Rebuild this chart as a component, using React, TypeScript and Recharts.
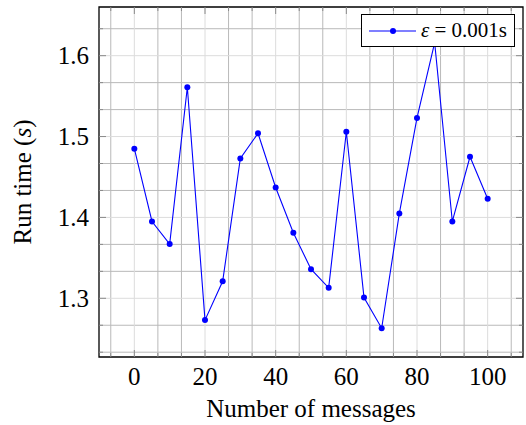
import React from 'react';
import { LineChart, Line, XAxis, YAxis, CartesianGrid, ReferenceArea, Legend } from 'recharts';

// run time measured every 5 messages
const messageCounts = [0, 5, 10, 15, 20, 25, 30, 35, 40, 45, 50, 55, 60, 65, 70, 75, 80, 85, 90, 95, 100];
const runTimes = [1.485, 1.395, 1.367, 1.561, 1.273, 1.321, 1.473, 1.504, 1.437, 1.381, 1.336,
    1.313, 1.506, 1.301, 1.263, 1.405, 1.523, 1.616, 1.395, 1.475, 1.423];

const xMajorTicks = [0, 20, 40, 60, 80, 100];
const yMajorTicks = [1.3, 1.4, 1.5, 1.6];

const X_DOMAIN: [number, number] = [-10, 110];
const Y_DOMAIN: [number, number] = [1.2274, 1.6602];

const WIDTH = 526;
const HEIGHT = 425;
const Y_AXIS_W = 99;
const X_AXIS_H = 68;
const MARGIN = { top: 7, right: 3, bottom: 0, left: 0 };
const PLOT_TOP = MARGIN.top;
const PLOT_BOTTOM = HEIGHT - X_AXIS_H;
const PLOT_LEFT = Y_AXIS_W;
const PLOT_RIGHT = WIDTH - MARGIN.right;

const FONT = '"Liberation Serif", "DejaVu Serif", serif';
const TICK_COLOR = '#8a8a8a';

// three minor steps between majors, like pgfplots' minor tick num=2
function minorValues(step: number, lo: number, hi: number, majors: number[]) {
    const out: number[] = [];
    const sub = step / 3;
    for (let k = Math.ceil(lo / sub); k * sub <= hi; k++) {
        const v = k * sub;
        if (!majors.some(m => Math.abs(m - v) < 1e-6)) out.push(v);
    }
    return out;
}

const xMinor = minorValues(20, X_DOMAIN[0], X_DOMAIN[1], xMajorTicks);
const yMinor = minorValues(0.1, Y_DOMAIN[0], Y_DOMAIN[1], yMajorTicks);
const xAllTicks = [...xMinor, ...xMajorTicks].sort((a, b) => a - b);
const yAllTicks = [...yMinor, ...yMajorTicks].sort((a, b) => a - b);

const isMajor = (v: number, majors: number[]) => majors.some(m => Math.abs(m - v) < 1e-6);

const data = messageCounts.map((m, i) => ({ messages: m, time: runTimes[i] }));

function XTick({ x, payload }: any) {
    const major = isMajor(payload.value, xMajorTicks);
    const len = major ? 7 : 4;
    return (
        <g>
            <line x1={x} x2={x} y1={PLOT_BOTTOM} y2={PLOT_BOTTOM - len} stroke={TICK_COLOR} />
            <line x1={x} x2={x} y1={PLOT_TOP} y2={PLOT_TOP + len} stroke={TICK_COLOR} />
            {major && (
                <text x={x} y={PLOT_BOTTOM + 28} textAnchor="middle" fontFamily={FONT} fontSize={25} fill="#000">
                    {payload.value}
                </text>
            )}
        </g>
    );
}

function YTick({ y, payload }: any) {
    const major = isMajor(payload.value, yMajorTicks);
    const len = major ? 7 : 4;
    return (
        <g>
            <line x1={PLOT_LEFT} x2={PLOT_LEFT + len} y1={y} y2={y} stroke={TICK_COLOR} />
            <line x1={PLOT_RIGHT} x2={PLOT_RIGHT - len} y1={y} y2={y} stroke={TICK_COLOR} />
            {major && (
                <text x={PLOT_LEFT - 10} y={y + 8.5} textAnchor="end" fontFamily={FONT} fontSize={25} fill="#000">
                    {payload.value.toFixed(1)}
                </text>
            )}
        </g>
    );
}

function XTitle({ viewBox }: any) {
    const cx = viewBox.x + viewBox.width / 2;
    return (
        <text x={cx} y={417} textAnchor="middle" fontFamily={FONT} fontSize={25} fill="#000">
            Number of messages
        </text>
    );
}

function YTitle({ viewBox }: any) {
    const cy = viewBox.y + viewBox.height / 2;
    return (
        <text transform={`translate(31, ${cy}) rotate(-90)`} textAnchor="middle" fontFamily={FONT} fontSize={25} fill="#000">
            Run time (<tspan fontStyle="italic">s</tspan>)
        </text>
    );
}

function LegendBox() {
    return (
        <div style={{
            boxSizing: 'border-box', width: 154, height: 33, border: '1px solid #000', background: '#fff',
            display: 'flex', alignItems: 'center', paddingLeft: 7, fontFamily: FONT, fontSize: 21,
        }}>
            <svg width={47} height={10} style={{ marginRight: 5 }}>
                <line x1={0} x2={47} y1={5} y2={5} stroke="#0000ff" strokeWidth={1.1} />
                <circle cx={24} cy={5} r={3} fill="#0000ff" />
            </svg>
            <span style={{ whiteSpace: 'nowrap' }}>
                <i>ε</i> = 0.001s
            </span>
        </div>
    );
}

export default function App() {
    return (
        <div style={{ position: 'absolute', left: 0, top: 0 }}>
            <LineChart width={WIDTH} height={HEIGHT} data={data} margin={MARGIN}>
                <CartesianGrid verticalValues={xMinor} horizontalValues={yMinor} stroke="#b9b9b9" />
                <CartesianGrid verticalValues={xMajorTicks} horizontalValues={yMajorTicks} stroke="#dcdcdc" />
                <XAxis dataKey="messages" type="number" domain={X_DOMAIN} ticks={xAllTicks} interval={0}
                    allowDataOverflow tick={<XTick />} tickLine={false} axisLine={false} height={X_AXIS_H}
                    label={<XTitle />} />
                <YAxis type="number" domain={Y_DOMAIN} ticks={yAllTicks} interval={0} allowDataOverflow
                    tick={<YTick />} tickLine={false} axisLine={false} width={Y_AXIS_W} label={<YTitle />} />
                <ReferenceArea x1={X_DOMAIN[0]} x2={X_DOMAIN[1]} y1={Y_DOMAIN[0]} y2={Y_DOMAIN[1]}
                    fill="none" stroke="#000" strokeWidth={1.3} ifOverflow="visible" />
                <Line dataKey="time" stroke="#0000ff" strokeWidth={1.1}
                    dot={{ r: 3, fill: '#0000ff', stroke: 'none' }} activeDot={false} isAnimationActive={false} />
                <Legend layout="vertical" align="center" verticalAlign="middle" content={() => <LegendBox />}
                    wrapperStyle={{ left: 361, top: 14, width: 154, height: 33, zIndex: 2 }} />
            </LineChart>
        </div>
    );
}
